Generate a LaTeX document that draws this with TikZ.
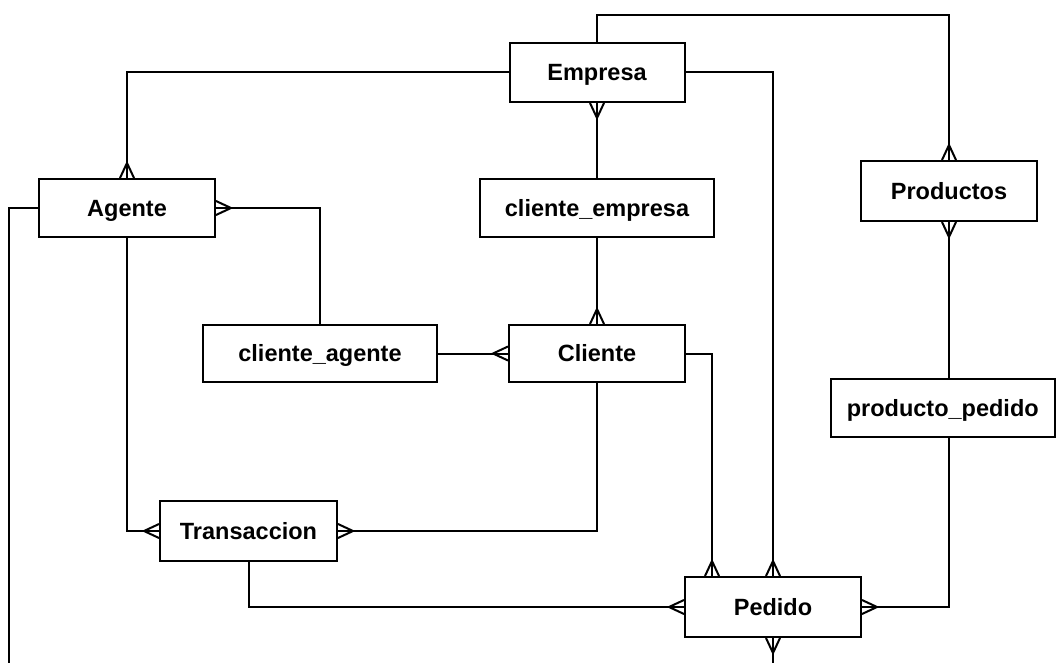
\documentclass[tikz,border=0pt]{standalone}
\usepackage{fontspec}
\setmainfont{Liberation Sans}
\usetikzlibrary{calc}
\tikzset{
  entity/.style={draw, line width=2pt, rectangle, inner sep=0pt,
    text height=16.8pt, text depth=0pt,
    font=\fontsize{23.5}{28}\selectfont\bfseries},
  link/.style={draw, line width=2pt},
  crow/.pic={\draw[line width=2pt, line join=miter] (0pt,7pt) -- (15pt,0pt) -- (0pt,-7pt);}
}
\begin{document}
\begin{tikzpicture}[x=1pt,y=-1pt]
\useasboundingbox[fill=white] (0,0) rectangle (1056,663);

\node[entity, minimum width=175pt, minimum height=59pt] (Empresa) at (597,72.5) {Empresa};
\node[entity, minimum width=176pt, minimum height=58pt] (Agente) at (127,208) {Agente};
\node[entity, minimum width=234pt, minimum height=58pt] (clemp) at (597,208) {cliente\_empresa};
\node[entity, minimum width=176pt, minimum height=60pt] (Productos) at (949,191) {Productos};
\node[entity, minimum width=234pt, minimum height=57pt] (clag) at (320,353.5) {cliente\_agente};
\node[entity, minimum width=176pt, minimum height=57pt] (Cliente) at (597,353.5) {Cliente};
\node[entity, minimum width=223.5pt, minimum height=58pt] (prodped) at (942.75,408) {producto\_pedido};
\node[entity, minimum width=177pt, minimum height=60pt] (Transaccion) at (248.5,531) {Transaccion};
\node[entity, minimum width=176pt, minimum height=60pt] (Pedido) at (773,607) {Pedido};

\coordinate (topY) at (0,15);
\coordinate (pedA) at ($(Pedido.north west)+(28,0)$);
\coordinate (offL) at (9,667);

% connectors
\draw[link] (Empresa.north) -- (Empresa.north |- topY) -| (Productos.north);
\draw[link] (Empresa.west) -| (Agente.north);
\draw[link] (Empresa.east) -| (Pedido.north);
\draw[link] (Empresa.south) -- (clemp.north);
\draw[link] (clemp.south) -- (Cliente.north);
\draw[link] (Agente.east) -| (clag.north);
\draw[link] (clag.east) -- (Cliente.west);
\draw[link] (Agente.south) |- (Transaccion.west);
\draw[link] (Cliente.south) |- (Transaccion.east);
\draw[link] (Cliente.east) -| (pedA);
\draw[link] (Transaccion.south) |- (Pedido.west);
\draw[link] (Productos.south) -- (Productos.south |- prodped.north);
\draw[link] (Productos.south |- prodped.south) |- (Pedido.east);
\draw[link] (Agente.west) -| (offL);
\draw[link] (Pedido.south) -- (Pedido.south |- offL);

% crow's feet
\pic[rotate=90] at (Productos.north) {crow};
\pic[rotate=270] at (Productos.south) {crow};
\pic[rotate=90] at (Agente.north) {crow};
\pic[rotate=0] at (Agente.east) {crow};
\pic[rotate=270] at (Empresa.south) {crow};
\pic[rotate=90] at (Cliente.north) {crow};
\pic[rotate=180] at (Cliente.west) {crow};
\pic[rotate=180] at (Transaccion.west) {crow};
\pic[rotate=0] at (Transaccion.east) {crow};
\pic[rotate=90] at (Pedido.north) {crow};
\pic[rotate=90] at (pedA) {crow};
\pic[rotate=180] at (Pedido.west) {crow};
\pic[rotate=0] at (Pedido.east) {crow};
\pic[rotate=270] at (Pedido.south) {crow};
\end{tikzpicture}
\end{document}
